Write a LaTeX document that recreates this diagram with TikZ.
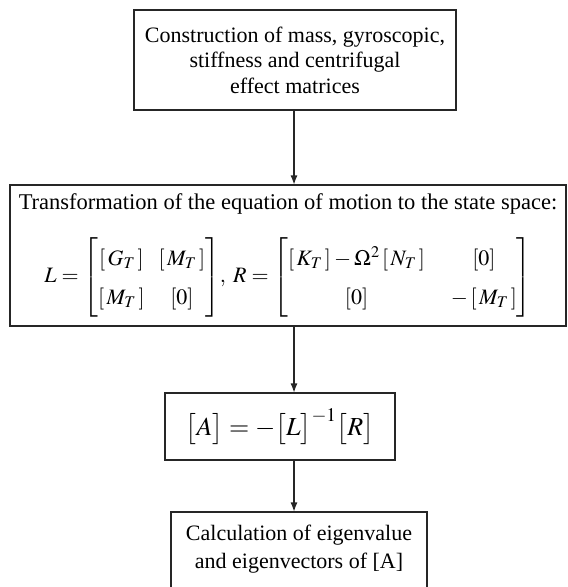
\documentclass[tikz,border=0pt]{standalone}
\usepackage{amsmath}
\usepackage{mathptmx}
\usepackage[no-math]{fontspec}
\setmainfont{Liberation Serif}
\usetikzlibrary{arrows.meta,positioning,calc}

\tikzset{
  stepbox/.style={draw=black!85,line width=1.1pt,rectangle,align=center,inner sep=0pt},
}
\newcommand{\sqb}[1]{\left[\,#1\,\right]}

\begin{document}
\begin{tikzpicture}[x=1pt,y=-1pt,>={Latex[length=9pt,width=7pt]}]
  \useasboundingbox (0,0) rectangle (568,587);
  \clip (0,0) rectangle (568,587);
  % boxes
  \node[stepbox,minimum width=322pt,minimum height=100pt,font=\fontsize{22}{25.5}\selectfont] (constr) at (295,60)
    {Construction of mass, gyroscopic,\\ stiffness and centrifugal\\ effect matrices};
  \node[stepbox,minimum width=556pt,minimum height=141pt,font=\fontsize{22.5}{25}\selectfont] (trans) at (288,255.5)
    {Transformation of the equation of motion to the state space:\\[22pt]
     {\fontsize{22}{26}\selectfont$\renewcommand{\arraystretch}{1.5}
      L=\left[\begin{array}{@{}c@{\hspace{14pt}}c@{}}\sqb{G_T} & \sqb{M_T}\\ \sqb{M_T} & {[0]}\end{array}\right]\!,\;
      R=\left[\begin{array}{@{}c@{\hspace{26pt}}c@{}}\sqb{K_T}-\Omega^2\sqb{N_T} & {[0]}\\ {[0]} & -\sqb{M_T}\end{array}\right]$}\rule[-24pt]{0pt}{0pt}};
  \node[stepbox,minimum width=230pt,minimum height=67pt,font=\fontsize{26}{30}\selectfont] (amat) at (280,426.5)
    {$\bigl[A\bigr]=-\bigl[L\bigr]^{-1}\bigl[R\bigr]$};
  \node[stepbox,minimum width=256pt,minimum height=80pt,font=\fontsize{22}{28}\selectfont] (calc) at (299,552)
    {Calculation of eigenvalue\\ and eigenvectors of [A]\rule[-10pt]{0pt}{0pt}};
  % arrows
  \draw[->,black!85,line width=1.1pt] ([xshift=-1pt]constr.south) -- ([xshift=-1pt]trans.north -| constr.south);
  \draw[->,black!85,line width=1.1pt] ([xshift=-1pt]trans.south -| constr.south) -- ([xshift=-1pt]amat.north -| constr.south);
  \draw[->,black!85,line width=1.1pt] ([xshift=-1pt]amat.south -| constr.south) -- ([xshift=-1pt]calc.north -| constr.south);
\end{tikzpicture}
\end{document}
